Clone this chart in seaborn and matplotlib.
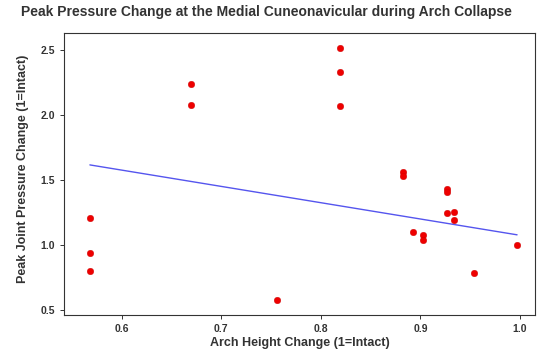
import numpy as np
import pandas as pd
import matplotlib
matplotlib.use("Agg")
import matplotlib.pyplot as plt
import seaborn as sns

# arch height change (x) vs peak joint pressure change (y)
arch_height = [0.568, 0.568, 0.568, 0.670, 0.670, 0.819, 0.819, 0.819, 0.756,
               0.882, 0.882, 0.892, 0.903, 0.903, 0.927, 0.927, 0.927, 0.934,
               0.934, 0.954, 0.997]
peak_pressure = [1.205, 0.936, 0.802, 2.238, 2.077, 2.515, 2.328, 2.069, 0.572,
                 1.564, 1.526, 1.095, 1.077, 1.038, 1.430, 1.410, 1.244, 1.256,
                 1.190, 0.782, 1.000]

# fitted line as drawn in the figure
fit_x = [0.568, 0.997]
fit_y = [1.615, 1.077]

df = pd.DataFrame({"arch": arch_height, "pressure": peak_pressure})
fit = pd.DataFrame({"arch": fit_x, "pressure": fit_y})

sns.set_style("ticks")
plt.rcParams["font.family"] = ["Liberation Sans", "DejaVu Sans"]
plt.rcParams["font.weight"] = "bold"

fig = plt.figure(figsize=(5.51, 3.6), dpi=100)
ax = fig.add_axes([64/551, 45/360, 471/551, 282/360])

sns.lineplot(data=fit, x="arch", y="pressure", color="#5555ee", linewidth=1.0, ax=ax)
sns.scatterplot(data=df, x="arch", y="pressure", color="#ee0000", edgecolor="#cc0000",
                s=22, linewidth=0.3, ax=ax, zorder=3)

ax.set_xlim(0.542, 1.015)
ax.set_ylim(0.46, 2.63)
ax.set_xticks([0.6, 0.7, 0.8, 0.9, 1.0])
ax.set_xticklabels(["0.6", "0.7", "0.8", "0.9", "1.0"])
ax.set_yticks([0.5, 1.0, 1.5, 2.0, 2.5])
ax.tick_params(labelsize=7.5, length=3, width=0.7, colors="#333333")
for sp in ax.spines.values():
    sp.set_linewidth(0.8)
    sp.set_color("#333333")

ax.set_xlabel("Arch Height Change (1=Intact)", fontsize=9, fontweight="bold", color="#333333", labelpad=2)
ax.set_ylabel("Peak Joint Pressure Change (1=Intact)", fontsize=9, fontweight="bold", color="#333333")
ax.yaxis.set_label_coords(-0.075, 0.52)
fig.suptitle("Peak Pressure Change at the Medial Cuneonavicular during Arch Collapse",
             x=266/551, y=0.985, fontsize=10, fontweight="bold", color="#333333")

fig.savefig("out.png", dpi=100)
